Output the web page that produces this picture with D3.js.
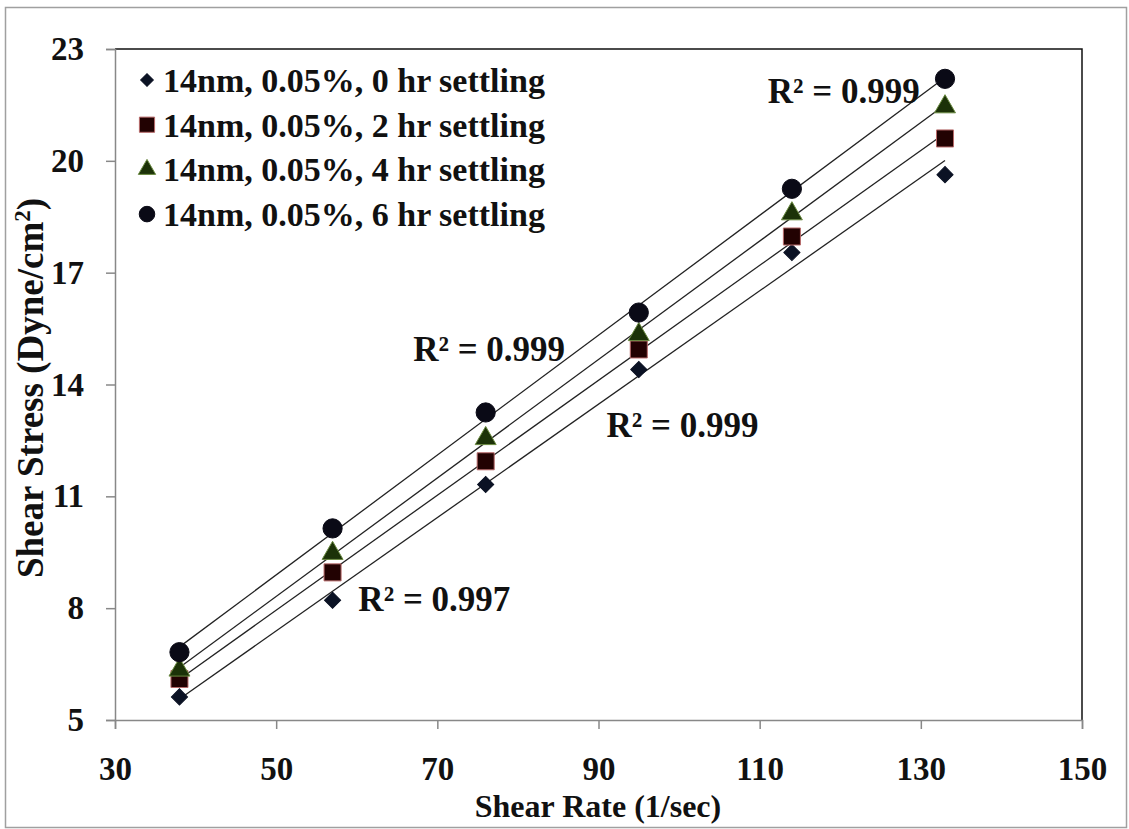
<!DOCTYPE html>
<html>
<head>
<meta charset="utf-8">
<script src="https://cdn.jsdelivr.net/npm/d3@7"></script>
<style>
    body { margin: 0; background: #fff; }
    text { font-family: "Liberation Serif", "Times New Roman", serif; font-weight: bold; fill: #111; }
</style>
</head>
<body>
<div id="chart"></div>
<script>
// shear rate values (x) and the four settling series
const shearRate = [38, 57, 76, 95, 114, 133];
const settling0 = [5.62, 8.21, 11.32, 14.4, 17.54, 19.63];
const settling2 = [6.1, 8.96, 11.94, 14.94, 17.97, 20.6];
const settling4 = [6.34, 9.47, 12.55, 15.34, 18.58, 21.45];
const settling6 = [6.82, 10.14, 13.25, 15.93, 19.25, 22.2];
const seriesNames = ["14nm, 0.05%, 0 hr settling", "14nm, 0.05%, 2 hr settling",
    "14nm, 0.05%, 4 hr settling", "14nm, 0.05%, 6 hr settling"];
const xTicks = [30, 50, 70, 90, 110, 130, 150];
const yTicks = [5, 8, 11, 14, 17, 20, 23];
const r2Labels = ["R² = 0.999", "R² = 0.999", "R² = 0.999", "R² = 0.997"];
// where each R² label sits (data units, left/baseline)
const r2Pos = [[111, 21.55], [67, 14.64], [91, 12.6], [60.2, 7.92]];

const width = 1129, height = 829;
const margin = {top: 49, right: 47, bottom: 109, left: 115};

const svg = d3.select("#chart").append("svg")
    .attr("width", width)
    .attr("height", height);

// outer frame
svg.append("rect")
    .attr("x", 5.5).attr("y", 7.5)
    .attr("width", width - 8).attr("height", height - 9)
    .attr("fill", "none").attr("stroke", "#a0a0a0").attr("stroke-width", 1.5);

const x = d3.scaleLinear().domain([30, 150]).range([margin.left, width - margin.right]);
const y = d3.scaleLinear().domain([5, 23]).range([height - margin.bottom, margin.top]);

// top + right plot border
svg.append("path")
    .attr("d", `M${x(30)},${y(23)}H${x(150)}V${y(5)}`)
    .attr("fill", "none").attr("stroke", "#111").attr("stroke-width", 1.5);

const xAxis = svg.append("g")
    .attr("transform", `translate(0,${y(5)})`)
    .call(d3.axisBottom(x).tickValues(xTicks).tickSize(9).tickPadding(28));
const yAxis = svg.append("g")
    .attr("transform", `translate(${x(30)},0)`)
    .call(d3.axisLeft(y).tickValues(yTicks).tickSize(9).tickPadding(22));

[xAxis, yAxis].forEach(a => {
    a.select(".domain").attr("stroke", "#888").attr("stroke-width", 1.5);
    a.selectAll(".tick line").attr("stroke", "#888").attr("stroke-width", 1.5);
    a.selectAll(".tick text")
        .style("font-family", "'Liberation Serif', serif")
        .style("font-weight", "bold")
        .style("font-size", "33px")
        .attr("fill", "#111");
});

// axis titles
svg.append("text")
    .attr("x", 598).attr("y", 817)
    .attr("text-anchor", "middle")
    .style("font-size", "32px")
    .text("Shear Rate (1/sec)");

const yt = svg.append("text")
    .attr("transform", "translate(43,388) rotate(-90)")
    .attr("text-anchor", "middle")
    .style("font-size", "37px");
yt.append("tspan").text("Shear Stress (Dyne/cm");
yt.append("tspan").attr("dy", -13).style("font-size", "23px").text("2");
yt.append("tspan").attr("dy", 13).text(")");

const series = [
    {name: seriesNames[0], values: settling0, shape: "diamond", fill: "#0b1224", stroke: "#0b1224"},
    {name: seriesNames[1], values: settling2, shape: "square", fill: "#220202", stroke: "#b86a6a"},
    {name: seriesNames[2], values: settling4, shape: "triangle", fill: "#1c3208", stroke: "#6a8a40"},
    {name: seriesNames[3], values: settling6, shape: "circle", fill: "#0a0a16", stroke: "#0a0a16"}
];

// diamond is a square turned 45 degrees
const symbolType = {
    diamond: d3.symbolSquare, square: d3.symbolSquare,
    triangle: d3.symbolTriangle, circle: d3.symbolCircle
};
const symbolSize = {diamond: 130, square: 290, triangle: 190, circle: 290};
const legendSize = {diamond: 80, square: 230, triangle: 130, circle: 190};
const rot = s => s === "diamond" ? " rotate(45)" : "";

// linear fit for the trendlines
function fit(xs, ys) {
    let mx = d3.mean(xs), my = d3.mean(ys);
    let sxy = d3.sum(xs, (v, i) => (v - mx) * (ys[i] - my));
    let sxx = d3.sum(xs, v => (v - mx) * (v - mx));
    let b = sxy / sxx;
    return {b: b, a: my - b * mx};
}

const trendG = svg.append("g");
const markG = svg.append("g");

series.forEach(s => {
    let f = fit(shearRate, s.values);
    let x0 = d3.min(shearRate), x1 = d3.max(shearRate);
    trendG.append("line")
        .attr("x1", x(x0)).attr("y1", y(f.a + f.b * x0))
        .attr("x2", x(x1)).attr("y2", y(f.a + f.b * x1))
        .attr("stroke", "#222").attr("stroke-width", 1.3);

    markG.selectAll(null)
        .data(s.values)
        .enter().append("path")
        .attr("transform", (d, i) => `translate(${x(shearRate[i])},${y(d)})` + rot(s.shape))
        .attr("d", d3.symbol().type(symbolType[s.shape]).size(symbolSize[s.shape]))
        .attr("fill", s.fill)
        .attr("stroke", s.stroke)
        .attr("stroke-width", 1);
});

// R² labels
svg.selectAll(".r2")
    .data(r2Labels)
    .enter().append("text")
    .attr("class", "r2")
    .attr("x", (d, i) => x(r2Pos[i][0]))
    .attr("y", (d, i) => y(r2Pos[i][1]))
    .style("font-size", "35px")
    .text(d => d);

// legend
const legend = svg.append("g");
series.forEach((s, i) => {
    let ly = 80 + i * 44.7;
    legend.append("path")
        .attr("transform", `translate(147,${ly})` + rot(s.shape))
        .attr("d", d3.symbol().type(symbolType[s.shape]).size(legendSize[s.shape]))
        .attr("fill", s.fill)
        .attr("stroke", s.stroke)
        .attr("stroke-width", 1);
    legend.append("text")
        .attr("x", 163).attr("y", ly + 12)
        .style("font-size", "34px")
        .text(s.name);
});
</script>
</body>
</html>
